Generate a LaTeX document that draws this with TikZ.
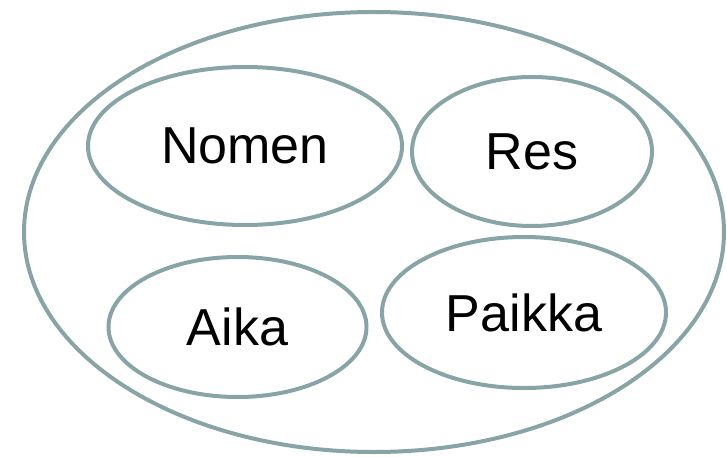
\documentclass[tikz,border=0pt]{standalone}
\usepackage{fontspec}
\setmainfont{Liberation Sans}
\usetikzlibrary{shapes.geometric}
\definecolor{reuna}{HTML}{88A4A6}
\tikzset{
    joukko/.style={ellipse,draw=reuna,line width=4pt,inner sep=0pt,
        font=\fontsize{52}{60}\selectfont}
}
\begin{document}
\begin{tikzpicture}[x=1pt,y=-1pt]
        \useasboundingbox (0,0) rectangle (727,457);

        \node[joukko,minimum width=700pt,minimum height=440pt] (kaikki) at (374,232) {};

        \node[joukko,minimum width=314pt,minimum height=158pt] (nomen) at (245,146) {Nomen};
        \node[joukko,minimum width=240pt,minimum height=149pt] (res) at (532,151.5) {Res};
        \node[joukko,minimum width=258pt,minimum height=140pt] (aika) at (237.5,327) {Aika};
        \node[joukko,minimum width=284pt,minimum height=151pt] (paikka) at (524,312.5) {Paikka};
    \end{tikzpicture}
\end{document}
